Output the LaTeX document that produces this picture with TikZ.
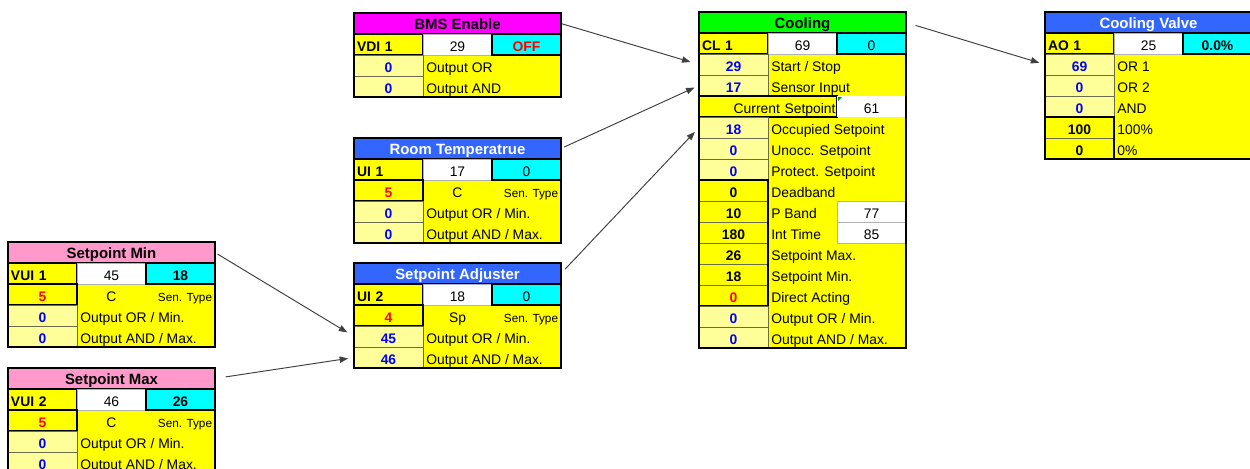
\documentclass[tikz,border=0pt]{standalone}
\usepackage{fontspec}
\setmainfont{Liberation Sans}
\usetikzlibrary{arrows.meta}
\RequirePackage{xcolor}
\definecolor{PanelYellow}{HTML}{FFFF00}
\definecolor{PanelPale}{HTML}{FFFF99}
\definecolor{PanelCyan}{HTML}{00FFFF}
\definecolor{PanelMagenta}{HTML}{FF00FF}
\definecolor{PanelBlue}{HTML}{3366FF}
\definecolor{PanelGreen}{HTML}{00FF00}
\definecolor{PanelPink}{HTML}{FF99CC}
\definecolor{PanelEdge}{HTML}{6B6B4F}
\definecolor{PanelInk}{HTML}{0000FF}
\definecolor{PanelRed}{HTML}{FF0000}

\newcommand{\cellfont}{\fontsize{7.9}{9}\selectfont}
\newcommand{\cellbold}{\fontsize{7.9}{9}\selectfont\bfseries}
\newcommand{\titlefont}{\fontsize{8.5}{10}\selectfont\bfseries}
\newcommand{\sentypefont}{\fontsize{6.7}{8}\selectfont}

\begin{document}
\begin{tikzpicture}[x=0.02cm,y=-0.02cm,
  cell/.style={minimum width=1.38cm, minimum height=0.42cm, inner sep=0pt, outer sep=0pt, anchor=north west, font=\cellfont, text height=7.6pt, text depth=0pt},
  celltitle/.style={cell, draw=black, line width=0.8pt, minimum width=4.14cm, font=\titlefont, text height=6.4pt, text depth=0pt},
  celltag/.style={cell, draw=black, line width=0.8pt, fill=PanelYellow, font=\cellbold, text width=1.26cm, align=left},
  cellval/.style={cell, fill=white, draw=black!30, line width=0.3pt},
  cellstat/.style={cell, draw=black, line width=0.8pt, fill=PanelCyan},
  cellref/.style={cell, draw=PanelEdge, line width=0.5pt, fill=PanelPale, text=PanelInk, font=\cellbold},
  cellpar/.style={cell, draw=PanelEdge, line width=0.5pt, fill=PanelYellow, font=\cellbold},
  celltext/.style={anchor=west, inner sep=0pt, font=\cellfont, text height=7.6pt, text depth=0pt},
  cellunit/.style={anchor=center, inner sep=0pt, font=\cellfont, text height=7.6pt, text depth=0pt},
  cellsen/.style={anchor=center, inner sep=0pt, font=\sentypefont, text height=7.6pt, text depth=0pt},
  cellgroup/.style={draw=black, line width=0.9pt},
  blockframe/.style={draw=black, line width=0.8pt},
  wire/.style={-{Triangle[length=4.8pt,width=3.6pt]}, line width=0.55pt, draw=black!75}]

\useasboundingbox (0,0) rectangle (1250,468);

% BMS Enable
\begin{scope}[shift={(354,13)}]
\fill[PanelYellow] (0,42) rectangle (207,84);
\node[celltitle, fill=PanelMagenta] (bms) at (0,0) {BMS Enable};
\node[celltag] (bmsTag) at (0,21) {VDI 1};
\node[cellval] (bmsVal) at (69,21) {29};
\node[cellstat, text=PanelRed, font=\cellbold] (bmsStat) at (138,21) {OFF};
\node[cellref] (bmsOr) at (0,42) {0};
\node[celltext] (bmsOrText) at (72,52.5) {Output OR};
\node[cellref] (bmsAnd) at (0,63) {0};
\node[celltext] (bmsAndText) at (72,73.5) {Output AND};
\draw[blockframe] (0,0) rectangle (207,84);
\end{scope}

% Room Temperatrue
\begin{scope}[shift={(354,138)}]
\fill[PanelYellow] (0,42) rectangle (207,105);
\node[celltitle, fill=PanelBlue, text=white] (room) at (0,0) {Room Temperatrue};
\node[celltag] (roomTag) at (0,21) {UI 1};
\node[cellval] (roomVal) at (69,21) {17};
\node[cellstat] (roomStat) at (138,21) {0};
\node[cellpar, text=PanelRed] (roomType) at (0,42) {5};
\node[cellunit] (roomUnit) at (103.5,52.5) {C};
\node[cellsen] (roomSen) at (177,52.5) {Sen. Type};
\draw[cellgroup] (roomType.north west) rectangle (roomType.south east);
\node[cellref] (roomOr) at (0,63) {0};
\node[celltext] (roomOrText) at (72,73.5) {Output OR / Min.};
\node[cellref] (roomAnd) at (0,84) {0};
\node[celltext] (roomAndText) at (72,94.5) {Output AND / Max.};
\draw[blockframe] (0,0) rectangle (207,105);
\end{scope}

% Setpoint Adjuster
\begin{scope}[shift={(354,263)}]
\fill[PanelYellow] (0,42) rectangle (207,105);
\node[celltitle, fill=PanelBlue, text=white] (spadj) at (0,0) {Setpoint Adjuster};
\node[celltag] (spadjTag) at (0,21) {UI 2};
\node[cellval] (spadjVal) at (69,21) {18};
\node[cellstat] (spadjStat) at (138,21) {0};
\node[cellpar, text=PanelRed] (spadjType) at (0,42) {4};
\node[cellunit] (spadjUnit) at (103.5,52.5) {Sp};
\node[cellsen] (spadjSen) at (177,52.5) {Sen. Type};
\draw[cellgroup] (spadjType.north west) rectangle (spadjType.south east);
\node[cellref] (spadjOr) at (0,63) {45};
\node[celltext] (spadjOrText) at (72,73.5) {Output OR / Min.};
\node[cellref] (spadjAnd) at (0,84) {46};
\node[celltext] (spadjAndText) at (72,94.5) {Output AND / Max.};
\draw[blockframe] (0,0) rectangle (207,105);
\end{scope}

% Setpoint Min
\begin{scope}[shift={(8,242)}]
\fill[PanelYellow] (0,42) rectangle (207,105);
\node[celltitle, fill=PanelPink] (spmin) at (0,0) {Setpoint Min};
\node[celltag] (spminTag) at (0,21) {VUI 1};
\node[cellval] (spminVal) at (69,21) {45};
\node[cellstat, font=\cellbold] (spminStat) at (138,21) {18};
\node[cellpar, text=PanelRed] (spminType) at (0,42) {5};
\node[cellunit] (spminUnit) at (103.5,52.5) {C};
\node[cellsen] (spminSen) at (177,52.5) {Sen. Type};
\draw[cellgroup] (spminType.north west) rectangle (spminType.south east);
\node[cellref] (spminOr) at (0,63) {0};
\node[celltext] (spminOrText) at (72,73.5) {Output OR / Min.};
\node[cellref] (spminAnd) at (0,84) {0};
\node[celltext] (spminAndText) at (72,94.5) {Output AND / Max.};
\draw[blockframe] (0,0) rectangle (207,105);
\end{scope}

% Setpoint Max
\begin{scope}[shift={(8,368)}]
\fill[PanelYellow] (0,42) rectangle (207,105);
\node[celltitle, fill=PanelPink] (spmax) at (0,0) {Setpoint Max};
\node[celltag] (spmaxTag) at (0,21) {VUI 2};
\node[cellval] (spmaxVal) at (69,21) {46};
\node[cellstat, font=\cellbold] (spmaxStat) at (138,21) {26};
\node[cellpar, text=PanelRed] (spmaxType) at (0,42) {5};
\node[cellunit] (spmaxUnit) at (103.5,52.5) {C};
\node[cellsen] (spmaxSen) at (177,52.5) {Sen. Type};
\draw[cellgroup] (spmaxType.north west) rectangle (spmaxType.south east);
\node[cellref] (spmaxOr) at (0,63) {0};
\node[celltext] (spmaxOrText) at (72,73.5) {Output OR / Min.};
\node[cellref] (spmaxAnd) at (0,84) {0};
\node[celltext] (spmaxAndText) at (72,94.5) {Output AND / Max.};
\draw[blockframe] (0,0) rectangle (207,105);
\end{scope}

% Cooling
\begin{scope}[shift={(699,12)}]
\fill[PanelYellow] (0,42) rectangle (207,336);
\node[celltitle, fill=PanelGreen] (cool) at (0,0) {Cooling};
\node[celltag] (coolTag) at (0,21) {CL 1};
\node[cellval] (coolVal) at (69,21) {69};
\node[cellstat] (coolStat) at (138,21) {0};
\node[cellref] (coolStart) at (0,42) {29};
\node[celltext] (coolStartText) at (72,52.5) {Start / Stop};
\node[cellref] (coolSensor) at (0,63) {17};
\node[celltext] (coolSensorText) at (72,73.5) {Sensor Input};
\node[cellpar, minimum width=2.76cm, text width=2.7cm, align=right, font=\cellfont] (coolSet) at (0,84) {Current Setpoint};
\draw[cellgroup] (coolSet.north west) rectangle (coolSet.south east);
\node[cellval, draw=none] (coolSetVal) at (138,84) {61};
\fill[PanelGreen!60!black] (139,85) -- (143,85) -- (139,89) -- cycle;
\node[cellref] (coolOcc) at (0,105) {18};
\node[celltext] (coolOccText) at (72,115.5) {Occupied Setpoint};
\node[cellref] (coolUnocc) at (0,126) {0};
\node[celltext] (coolUnoccText) at (72,136.5) {Unocc. Setpoint};
\node[cellref] (coolProt) at (0,147) {0};
\node[celltext] (coolProtText) at (72,157.5) {Protect. Setpoint};
\node[cellpar] (coolDead) at (0,168) {0};
\node[celltext] (coolDeadText) at (72,178.5) {Deadband};
\node[cellpar] (coolBand) at (0,189) {10};
\node[celltext] (coolBandText) at (72,199.5) {P Band};
\node[cellval] (coolBandVal) at (138,189) {77};
\node[cellpar] (coolInt) at (0,210) {180};
\node[celltext] (coolIntText) at (72,220.5) {Int Time};
\node[cellval] (coolIntVal) at (138,210) {85};
\node[cellpar] (coolMax) at (0,231) {26};
\node[celltext] (coolMaxText) at (72,241.5) {Setpoint Max.};
\node[cellpar] (coolMin) at (0,252) {18};
\node[celltext] (coolMinText) at (72,262.5) {Setpoint Min.};
\node[cellpar, text=PanelRed] (coolDir) at (0,273) {0};
\node[celltext] (coolDirText) at (72,283.5) {Direct Acting};
\draw[cellgroup] (coolDead.north west) rectangle (coolDir.south east);
\node[cellref] (coolOr) at (0,294) {0};
\node[celltext] (coolOrText) at (72,304.5) {Output OR / Min.};
\node[cellref] (coolAnd) at (0,315) {0};
\node[celltext] (coolAndText) at (72,325.5) {Output AND / Max.};
\draw[blockframe] (0,0) rectangle (207,336);
\end{scope}

% Cooling Valve
\begin{scope}[shift={(1045,12)}]
\fill[PanelYellow] (0,42) rectangle (207,147);
\node[celltitle, fill=PanelBlue, text=white] (valve) at (0,0) {Cooling Valve};
\node[celltag] (valveTag) at (0,21) {AO 1};
\node[cellval] (valveVal) at (69,21) {25};
\node[cellstat, font=\cellbold] (valveStat) at (138,21) {0.0\%};
\node[cellref] (valveOrA) at (0,42) {69};
\node[celltext] (valveOrAText) at (72,52.5) {OR 1};
\node[cellref] (valveOrB) at (0,63) {0};
\node[celltext] (valveOrBText) at (72,73.5) {OR 2};
\node[cellref] (valveAnd) at (0,84) {0};
\node[celltext] (valveAndText) at (72,94.5) {AND};
\node[cellpar] (valveHigh) at (0,105) {100};
\node[celltext] (valveHighText) at (72,115.5) {100\%};
\node[cellpar] (valveLow) at (0,126) {0};
\node[celltext] (valveLowText) at (72,136.5) {0\%};
\draw[cellgroup] (valveHigh.north west) rectangle (valveLow.south east);
\draw[blockframe] (0,0) rectangle (207,147);
\end{scope}

% links
\draw[wire, shorten <=0.6pt, shorten >=5.1pt] (bms.east) -- (coolStart.west);
\draw[wire, shorten <=2pt, shorten >=2.8pt] (room.east) -- (coolSensor.west);
\draw[wire, shorten <=3.4pt, shorten >=3.4pt] (spadj.east) -- (coolOcc.west);
\draw[wire, shorten <=1.7pt, shorten >=4.5pt] (spmin.east) -- (spadjOr.west);
\draw[wire, shorten <=6.2pt, shorten >=3.4pt] (spmax.east) -- (spadjAnd.west);
\draw[wire, shorten <=5.7pt, shorten >=3.4pt] (cool.east) -- (valveOrA.west);

\end{tikzpicture}
\end{document}
